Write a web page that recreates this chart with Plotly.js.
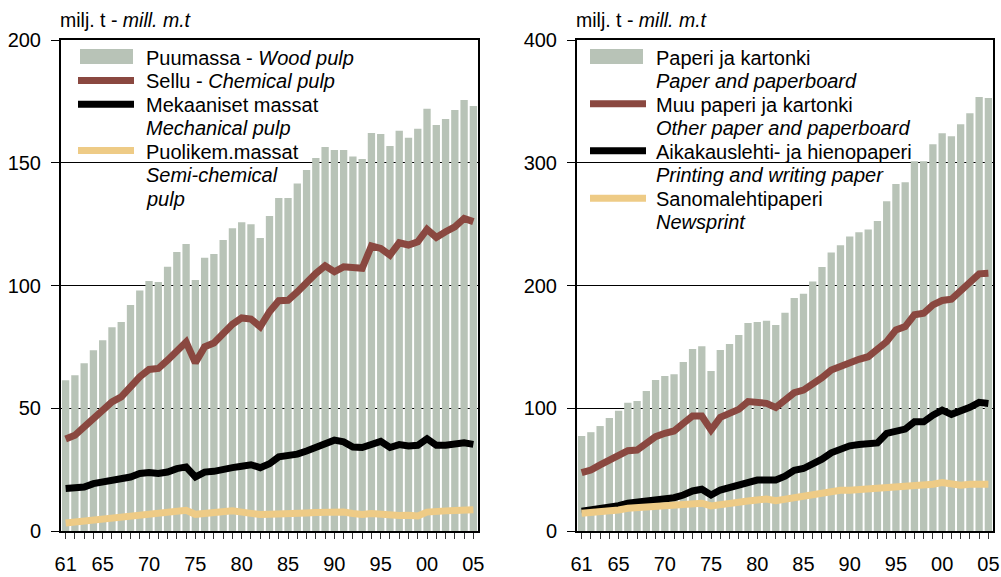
<!DOCTYPE html>
<html>
<head>
<meta charset="utf-8">
<script src="https://cdn.plot.ly/plotly-3.0.1.min.js"></script>
<style>html,body{margin:0;padding:0;background:#fff;}#chart{width:1001px;height:577px;}</style>
</head>
<body>
<div id="chart"></div>
<script>
// ---------- data ----------
var years = [1961,1962,1963,1964,1965,1966,1967,1968,1969,1970,
             1971,1972,1973,1974,1975,1976,1977,1978,1979,1980,
             1981,1982,1983,1984,1985,1986,1987,1988,1989,1990,
             1991,1992,1993,1994,1995,1996,1997,1998,1999,2000,
             2001,2002,2003,2004,2005];
var yearLabels = ['61','','','','65','','','','','70',
                  '','','','','75','','','','','80',
                  '','','','','85','','','','','90',
                  '','','','','95','','','','','00',
                  '','','','','05'];

// Left panel: pulp
var woodPulp = [61.4,63.4,68.3,73.6,77.7,83.0,85.1,92.1,98.0,101.8,
                101.4,107.6,113.6,116.9,102.2,111.3,112.8,118.5,123.3,125.8,
                125.0,119.3,128.3,135.6,135.6,141.5,147.0,151.9,156.4,155.2,
                155.2,152.5,151.5,162.1,161.7,156.8,163.0,160.2,163.8,172.0,
                165.4,167.8,171.5,175.6,173.1];
var chemicalPulp = [37.5,39.0,42.4,45.8,48.5,52.6,54.6,58.7,62.8,65.8,
                    66.2,69.6,73.6,77.0,68.5,75.0,76.6,80.4,84.2,86.8,
                    86.3,83.2,89.3,93.8,94.0,97.4,101.5,104.9,108.0,105.6,
                    107.6,107.6,107.0,116.1,115.1,112.4,117.4,116.5,117.8,122.9,
                    119.6,121.9,123.9,127.3,126.0];
var mechanicalPulp = [17.3,17.3,17.9,19.3,20.0,20.7,20.7,22.0,23.4,23.8,
                      23.4,24.0,25.4,26.1,22.0,24.0,24.3,25.4,25.8,26.4,
                      27.0,25.8,27.4,30.2,30.4,31.3,32.6,34.2,35.9,37.0,
                      36.3,34.2,34.0,34.9,36.5,34.0,35.2,34.6,34.9,37.6,
                      34.9,34.9,35.3,35.9,35.3];
var semiChemicalPulp = [3.3,3.7,4.1,4.6,5.2,5.4,6.0,6.4,7.1,7.1,
                        7.3,7.7,8.2,8.4,6.8,7.3,7.3,7.7,8.2,7.7,
                        7.1,6.7,6.8,7.1,7.1,7.1,7.3,7.5,7.7,8.0,
                        7.7,7.1,6.7,7.1,6.7,6.4,6.3,6.4,6.1,7.7,
                        8.2,8.2,8.4,8.7,8.7];

// Right panel: paper
var paperBoard = [77.4,80.5,85.5,92.1,98.0,104.5,105.9,114.1,123.0,126.2,
                  127.8,137.7,148.3,150.6,130.3,147.5,152.3,159.7,169.5,170.3,
                  171.2,167.9,177.7,189.9,193.2,203.3,215.0,226.9,232.7,240.0,
                  243.3,245.7,252.5,268.6,282.7,284.1,301.2,301.2,315.1,324.1,
                  321.6,331.4,340.4,353.5,352.7];
var otherPaper = [47.5,49.7,53.8,57.8,61.9,65.4,66.0,71.4,76.9,79.6,
                  81.5,87.7,93.7,93.7,82.3,92.6,95.3,99.1,105.4,104.5,
                  104.0,100.7,107.5,112.7,114.8,119.7,124.9,131.2,134.4,137.1,
                  139.9,142.0,147.5,154.3,163.8,166.5,176.1,177.4,184.2,187.8,
                  188.8,196.0,203.0,209.5,210.0];
var printingPaper = [16.2,17.1,18.5,19.8,20.6,22.6,23.4,24.7,25.8,26.6,
                     27.1,29.3,32.6,34.0,29.3,33.4,35.6,38.3,40.2,41.5,
                     41.5,41.5,44.6,49.5,50.9,54.1,58.5,63.7,67.2,69.4,
                     70.5,71.3,71.8,79.5,81.4,83.0,89.0,89.0,94.4,98.5,
                     95.0,97.7,100.7,104.8,103.9];
var newsprint = [14.4,14.9,15.7,16.5,17.1,18.5,19.0,19.8,20.6,21.2,
                 21.2,22.0,22.6,22.6,20.4,21.7,22.6,23.4,24.4,25.3,
                 26.1,24.7,26.1,26.4,28.3,29.7,31.0,32.4,33.2,33.2,
                 33.7,33.2,33.7,34.6,35.9,35.4,36.5,36.7,38.1,39.5,
                 38.6,37.3,38.1,38.6,38.1];

var leftLegend = ['Puumassa - <i>Wood pulp</i>', 'Sellu - <i>Chemical pulp</i>', 'Mekaaniset massat', '<i>Mechanical pulp</i>',
                  'Puolikem.massat', '<i>Semi-chemical</i>', '<i>pulp</i>'];
var rightLegend = ['Paperi ja kartonki', '<i>Paper and paperboard</i>', 'Muu paperi ja kartonki', '<i>Other paper and paperboard</i>',
                   'Aikakauslehti- ja hienopaperi', '<i>Printing and writing paper</i>', 'Sanomalehtipaperi', '<i>Newsprint</i>'];
var unitTitle = 'milj. t - <i>mill. m.t</i>';

// ---------- styles ----------
var FONT = 'Liberation Sans, Arial, sans-serif';
var C_BAR = '#b8c3b7', C_RED = '#8a4840', C_BLK = '#000000', C_YEL = '#eecb86';
var W = 1001, H = 577;
function px(x){ return x / W; }
function py(y){ return 1 - y / H; }

var LW = 7;
var traces = [
  {type:'bar', x:years, y:woodPulp, marker:{color:C_BAR}, xaxis:'x', yaxis:'y'},
  {type:'scatter', mode:'lines', x:years, y:chemicalPulp, line:{color:C_RED, width:LW}, xaxis:'x', yaxis:'y'},
  {type:'scatter', mode:'lines', x:years, y:mechanicalPulp, line:{color:C_BLK, width:LW}, xaxis:'x', yaxis:'y'},
  {type:'scatter', mode:'lines', x:years, y:semiChemicalPulp, line:{color:C_YEL, width:LW}, xaxis:'x', yaxis:'y'},
  {type:'bar', x:years, y:paperBoard, marker:{color:C_BAR}, xaxis:'x2', yaxis:'y2'},
  {type:'scatter', mode:'lines', x:years, y:otherPaper, line:{color:C_RED, width:LW}, xaxis:'x2', yaxis:'y2'},
  {type:'scatter', mode:'lines', x:years, y:printingPaper, line:{color:C_BLK, width:LW}, xaxis:'x2', yaxis:'y2'},
  {type:'scatter', mode:'lines', x:years, y:newsprint, line:{color:C_YEL, width:LW}, xaxis:'x2', yaxis:'y2'}
];

function xax(dom){
  return {domain:dom, range:[1960.5, 2005.5], tickmode:'array', tickvals:years, ticktext:yearLabels,
          ticks:'outside', ticklen:6, tickwidth:1, tickcolor:'#333', showgrid:false, zeroline:false,
          showline:true, linecolor:'#000', linewidth:2, mirror:true, ticklabelstandoff:8,
          tickfont:{family:FONT, size:20, color:'#000'}, fixedrange:true};
}
function yax(max, dtick, anchor){
  return {domain:[1-531/H, 1-40/H], range:[0,max], dtick:dtick, ticks:'outside', ticklen:8, tickwidth:1,
          tickcolor:'#000', showgrid:true, gridcolor:'#000', gridwidth:1, zeroline:false, anchor:anchor,
          showline:true, linecolor:'#000', linewidth:2, mirror:true, ticklabelstandoff:6,
          tickfont:{family:FONT, size:20, color:'#000'}, fixedrange:true};
}

var LX0 = 61, LX1 = 478, RX0 = 577, RX1 = 993;
var layout = {
  width:W, height:H, margin:{l:0,r:0,t:0,b:0}, paper_bgcolor:'#fff', plot_bgcolor:'#fff',
  showlegend:false, bargap:0.21,
  xaxis: xax([px(LX0), px(LX1)]), yaxis: yax(200, 50, 'x'),
  xaxis2: Object.assign(xax([px(RX0), px(RX1)]), {anchor:'y2'}), yaxis2: yax(400, 100, 'x2'),
  shapes:[], annotations:[]
};
layout.xaxis.anchor = 'y';

// legend backgrounds (hide gridlines behind legend text)
layout.shapes.push({type:'rect', xref:'paper', yref:'paper', layer:'between', x0:px(LX0+1), x1:px(300), y0:py(41), y1:py(212), fillcolor:'#fff', line:{width:0}});
layout.shapes.push({type:'rect', xref:'paper', yref:'paper', layer:'between', x0:px(RX0+1), x1:px(887), y0:py(41), y1:py(236), fillcolor:'#fff', line:{width:0}});

// left legend symbols
layout.shapes.push({type:'rect', xref:'paper', yref:'paper', x0:px(80), x1:px(133), y0:py(64), y1:py(49), fillcolor:C_BAR, line:{width:0}});
[[80.5, C_RED],[104.3, C_BLK],[150.5, C_YEL]].forEach(function(s){
  layout.shapes.push({type:'line', xref:'paper', yref:'paper', x0:px(78), x1:px(134), y0:py(s[0]), y1:py(s[0]), line:{color:s[1], width:7}});
});
// right legend symbols
layout.shapes.push({type:'rect', xref:'paper', yref:'paper', x0:px(590), x1:px(643), y0:py(64), y1:py(49), fillcolor:C_BAR, line:{width:0}});
[[103.7, C_RED],[150.7, C_BLK],[198.3, C_YEL]].forEach(function(s){
  layout.shapes.push({type:'line', xref:'paper', yref:'paper', x0:px(590), x1:px(646), y0:py(s[0]), y1:py(s[0]), line:{color:s[1], width:7}});
});

function txt(t, x, y, size){
  layout.annotations.push({text:t, xref:'paper', yref:'paper', x:px(x), y:py(y), xanchor:'left', yanchor:'middle',
    showarrow:false, font:{family:FONT, size:size||20, color:'#000'}});
}
var step = 23.55;
leftLegend.forEach(function(t, i){ txt(t, 144, 57.5 + i*step); });
rightLegend.forEach(function(t, i){ txt(t, 654, 57.5 + i*step); });
txt(unitTitle, 58, 20, 19.5);
txt(unitTitle, 574, 20, 19.5);

Plotly.newPlot('chart', traces, layout, {displayModeBar:false, staticPlot:true});
</script>
</body>
</html>
